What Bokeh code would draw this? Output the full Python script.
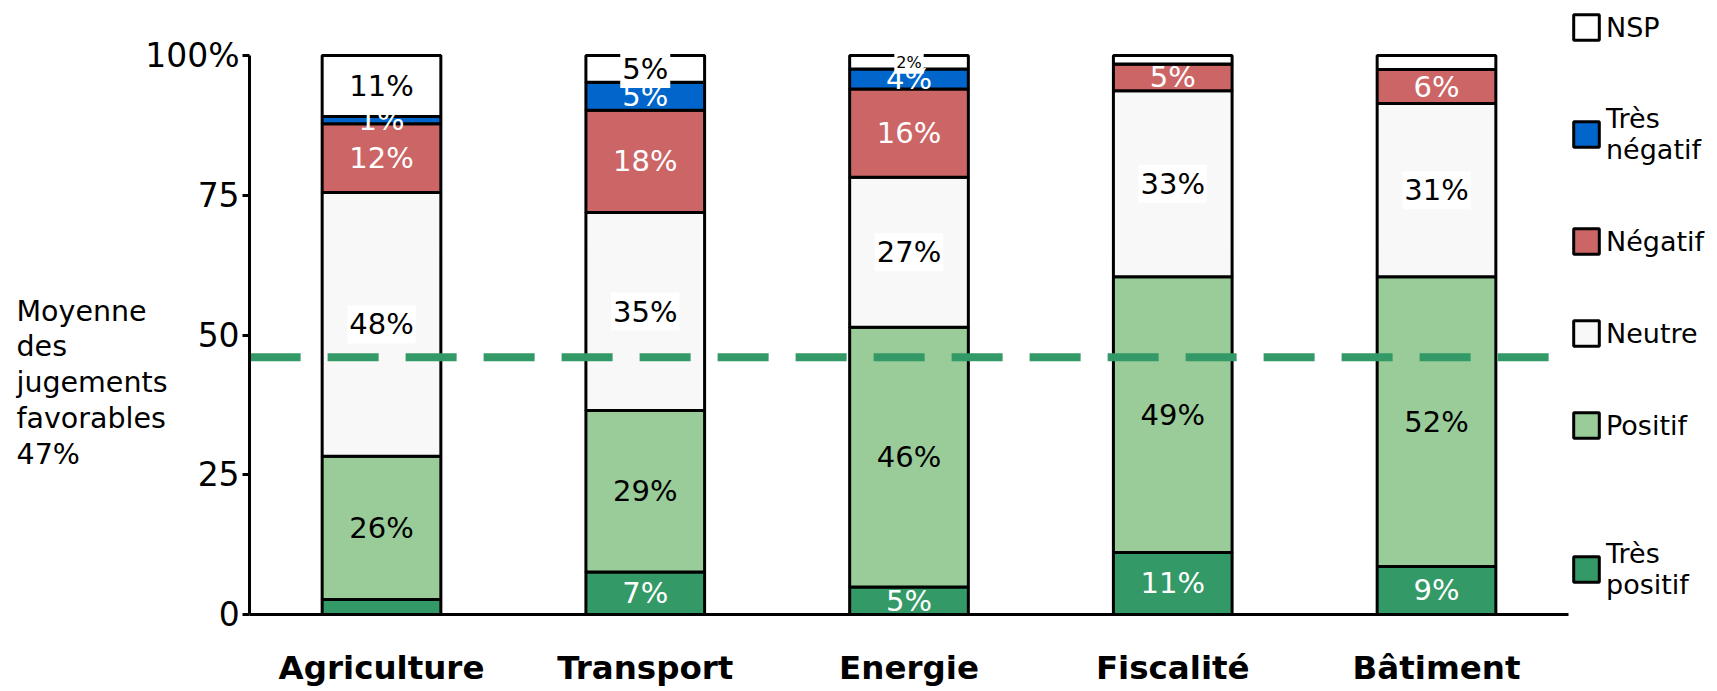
from bokeh.plotting import figure
from bokeh.models import (Range1d, LinearAxis, FixedTicker, Legend, LegendItem,
                          Label, ColumnDataSource)
from bokeh.core.properties import value, field
from bokeh.embed import file_html
from bokeh.resources import INLINE

# ---------------- data ----------------
categories = ["Agriculture", "Transport", "Energie", "Fiscalité", "Bâtiment"]
tres_positif = [2.7, 7.6, 4.9, 11.1, 8.6]
positif = [25.6, 28.9, 46.5, 49.3, 51.8]
neutre = [47.2, 35.4, 26.8, 33.3, 31.0]
negatif = [12.3, 18.3, 15.8, 4.8, 6.1]
tres_negatif = [1.3, 5.0, 3.6, 0.0, 0.0]
nsp = [10.9, 4.8, 2.4, 1.5, 2.5]

lbl_tres_positif = ["", "7%", "5%", "11%", "9%"]
lbl_positif = ["26%", "29%", "46%", "49%", "52%"]
lbl_neutre = ["48%", "35%", "27%", "33%", "31%"]
lbl_negatif = ["12%", "18%", "16%", "5%", "6%"]
lbl_tres_negatif = ["1%", "5%", "4%", "", ""]
lbl_nsp = ["11%", "5%", "2%", "", ""]

series_keys = ["tres_positif", "positif", "neutre", "negatif", "tres_negatif", "nsp"]
series_values = [tres_positif, positif, neutre, negatif, tres_negatif, nsp]
series_labels = [lbl_tres_positif, lbl_positif, lbl_neutre, lbl_negatif,
                 lbl_tres_negatif, lbl_nsp]
legend_labels = ["Très\npositif", "Positif", "Neutre", "Négatif", "Très\nnégatif", "NSP"]

y_ticks = [0, 25, 50, 75, 100]
y_tick_labels = {0: "0", 25: "25", 50: "50", 75: "75", 100: "100%"}

moyenne = 46.0
moyenne_text = "Moyenne\ndes\njugements\nfavorables\n47%"

# ---------------- styles ----------------
colors = ["#339966", "#99cc99", "#f8f8f8", "#cc6666", "#0066cc", "#ffffff"]
text_colors = ["white", "black", "black", "white", "white", "black"]
boxed = [False, False, True, False, False, True]
FONT = "DejaVu Sans"

# ---------------- layout ----------------
W, H = 1717, 691
PX_X = 263.75      # pixels per category step
X0_PX = 381        # canvas px of first category centre
PX_Y = 5.59        # pixels per percent
Y100_PX = 55       # canvas px of 100 %
x_start = -X0_PX / PX_X
x_end = x_start + W / PX_X
y_end = 100 + Y100_PX / PX_Y
y_start = y_end - H / PX_Y
ax_lo, ax_hi = -0.5, len(categories) - 0.5

p = figure(width=W, height=H, x_range=Range1d(x_start, x_end),
           y_range=Range1d(y_start, y_end), x_axis_type=None, y_axis_type=None,
           min_border=0, toolbar_location=None, output_backend="svg",
           outline_line_color=None, background_fill_color="white",
           border_fill_color="white")

xs = list(range(len(categories)))
data = {"x": xs}
for k, v in zip(series_keys, series_values):
    data[k] = v
src = ColumnDataSource(data)

renderers = p.vbar_stack(series_keys, x="x", width=0.45, source=src,
                         fill_color=colors, line_color="black", line_width=3)

# average line
p.segment(x0=[ax_lo], y0=[moyenne], x1=[ax_hi], y1=[moyenne],
          line_color="#339966", line_width=8, line_dash="51 27")

# segment labels
bottom = [0.0] * len(categories)
for i, (vals, labs) in enumerate(zip(series_values, series_labels)):
    lx, ly, lt, lc, ls = [], [], [], [], []
    for j, (v, t) in enumerate(zip(vals, labs)):
        if t:
            lx.append(xs[j])
            ly.append(bottom[j] + v / 2)
            lt.append(t)
            lc.append(text_colors[i])
            ls.append("16px" if (series_keys[i] == "nsp" and v < 3) else "29px")
        bottom[j] += v
    lsrc = ColumnDataSource(dict(x=lx, y=ly, text=lt, color=lc, size=ls))
    kw = dict(x="x", y="y", text="text", source=lsrc, text_align="center",
              text_baseline="middle", text_color=field("color"),
              text_font=value(FONT), text_font_size=field("size"))
    if boxed[i]:
        kw.update(background_fill_color="white", padding=2)
    p.text(**kw)

# axes
yaxis = LinearAxis(fixed_location=ax_lo, bounds=(0, 100),
                   ticker=FixedTicker(ticks=y_ticks),
                   major_label_overrides=y_tick_labels,
                   axis_line_width=3, axis_line_color="black",
                   major_tick_line_width=3, major_tick_out=7, major_tick_in=0,
                   minor_tick_out=0, minor_tick_in=0,
                   major_label_text_font=FONT, major_label_text_font_size="33px",
                   major_label_text_color="black", major_label_standoff=3)
p.add_layout(yaxis, "left")

xaxis = LinearAxis(fixed_location=0, bounds=(ax_lo, ax_hi),
                   ticker=FixedTicker(ticks=xs),
                   major_label_overrides={i: c for i, c in enumerate(categories)},
                   axis_line_width=3, axis_line_color="black",
                   major_tick_out=0, major_tick_in=0,
                   minor_tick_out=0, minor_tick_in=0,
                   major_label_text_font=FONT, major_label_text_font_size="32.5px",
                   major_label_text_font_style="bold",
                   major_label_text_color="black", major_label_standoff=34)
p.add_layout(xaxis, "below")

# left annotation
p.add_layout(Label(x=x_start + 16 / PX_X, y=y_end - 294 / PX_Y, text=moyenne_text,
                   text_font=FONT, text_font_size="28.5px", text_color="black",
                   text_align="left", text_baseline="top", text_line_height=1.09))

# legends (upper block and "Très positif" block)
leg_style = dict(glyph_width=32, glyph_height=32, label_text_font=FONT,
                 label_text_font_size="27px", label_text_color="black",
                 label_standoff=4, spacing=60,
                 padding=0, margin=0, border_line_alpha=0,
                 background_fill_alpha=0, label_height=26)
order = list(reversed(range(len(series_keys))))
items_top = [LegendItem(label=legend_labels[i], renderers=[renderers[i]])
             for i in order[:-1]]
items_bot = [LegendItem(label=legend_labels[i], renderers=[renderers[i]])
             for i in order[-1:]]
p.add_layout(Legend(items=items_top, location=(1570, 250), **leg_style))
p.add_layout(Legend(items=items_bot, location=(1570, 91), **leg_style))

open("out.html", "w").write(file_html(p, INLINE))
